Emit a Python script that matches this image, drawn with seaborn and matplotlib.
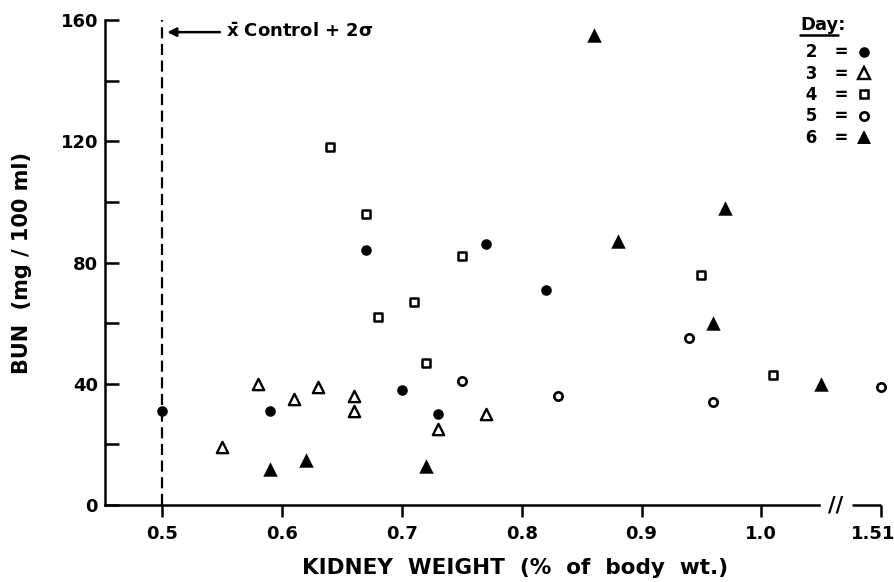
import matplotlib
matplotlib.use("Agg")
import matplotlib.pyplot as plt
import matplotlib.transforms as mtransforms
from matplotlib.lines import Line2D
import numpy as np
import pandas as pd
import seaborn as sns

# kidney weight (% of body wt.) and BUN (mg/100 ml), one pair of lists per day
day2_x = [0.50, 0.59, 0.67, 0.70, 0.73, 0.77, 0.82]
day2_y = [31, 31, 84, 38, 30, 86, 71]
day3_x = [0.55, 0.58, 0.61, 0.63, 0.66, 0.66, 0.73, 0.77]
day3_y = [19, 40, 35, 39, 36, 31, 25, 30]
day4_x = [0.64, 0.67, 0.68, 0.71, 0.72, 0.75, 0.95, 1.01]
day4_y = [118, 96, 62, 67, 47, 82, 76, 43]
day5_x = [0.75, 0.83, 0.94, 0.96, 1.51]
day5_y = [41, 36, 55, 34, 39]
day6_x = [0.59, 0.62, 0.72, 0.86, 0.88, 0.96, 0.97, 1.05]
day6_y = [12, 15, 13, 155, 87, 60, 98, 40]

days = ["2", "3", "4", "5", "6"]
x_ticks = [0.5, 0.6, 0.7, 0.8, 0.9, 1.0, 1.51]
x_tick_labels = ["0.5", "0.6", "0.7", "0.8", "0.9", "1.0", "1.51"]
y_ticks = [0, 40, 80, 120, 160]
y_minor = [20, 60, 100, 140]
control_limit = 0.5      # mean control + 2 sigma
control_label_y = 156

# broken x axis: everything past the break is pulled left by this amount
BREAK_AT = 1.2
BREAK_SHIFT = 0.41


def to_axis(x):
    x = np.asarray(x, dtype=float)
    return np.where(x > BREAK_AT, x - BREAK_SHIFT, x)


frames = []
for d, xs, ys in zip(days, [day2_x, day3_x, day4_x, day5_x, day6_x],
                     [day2_y, day3_y, day4_y, day5_y, day6_y]):
    frames.append(pd.DataFrame({"kw": xs, "bun": ys, "day": d}))
df = pd.concat(frames, ignore_index=True)
df["pos"] = to_axis(df["kw"])

styles = {
    "2": dict(marker="o", s=58, facecolor="black", linewidth=0),
    "3": dict(marker="^", s=66, facecolor="white", linewidth=1.7),
    "4": dict(marker="s", s=32, facecolor="white", linewidth=1.8),
    "5": dict(marker="o", s=36, facecolor="white", linewidth=1.9),
    "6": dict(marker="^", s=108, facecolor="black", linewidth=0),
}

sns.set_theme(style="ticks")
plt.rcParams["font.family"] = ["DejaVu Sans"]
plt.rcParams["font.weight"] = "bold"
plt.rcParams["axes.labelweight"] = "bold"
plt.rcParams["text.color"] = "black"
plt.rcParams["axes.labelcolor"] = "black"
plt.rcParams["mathtext.default"] = "bf"

fig, ax = plt.subplots(figsize=(8.95, 5.82), dpi=100)
fig.subplots_adjust(left=0.1173, right=0.9844, bottom=0.1323, top=0.9656)

for d in days:
    st = styles[d]
    sns.scatterplot(data=df[df["day"] == d], x="pos", y="bun", ax=ax,
                    marker=st["marker"], s=st["s"], facecolor=st["facecolor"],
                    edgecolor="black", linewidth=st["linewidth"], zorder=3,
                    clip_on=False, legend=False)

ax.axvline(control_limit, color="black", lw=1.6, ls=(0, (5, 2.5)), zorder=2)
ax.annotate(r"$\bar{x}$ Control + 2σ", xy=(control_limit + 0.004, control_label_y),
            xytext=(0.553, control_label_y), va="center", ha="left", fontsize=13,
            fontweight="bold", color="black",
            arrowprops=dict(arrowstyle="-|>", color="black", lw=1.8,
                            relpos=(0, 0.5), shrinkA=2, shrinkB=0))

ax.set_xlim(0.452, to_axis(1.51))
ax.set_ylim(0, 160)
ax.set_xticks(to_axis(x_ticks))
ax.set_xticklabels(x_tick_labels)
ax.set_yticks(y_ticks)
ax.set_yticks(y_minor, minor=True)
ax.tick_params(axis="x", direction="out", length=8.5, width=1.8, pad=6,
               labelsize=13, colors="black")
ax.tick_params(axis="y", which="both", direction="in", length=10, width=1.8,
               pad=5, labelsize=13, colors="black")
# pull the last label a little left so it stays on the page
last = ax.get_xticklabels()[-1]
last.set_transform(last.get_transform() +
                   mtransforms.ScaledTranslation(-8 / 100, 0, fig.dpi_scale_trans))

for sp in ["top", "right"]:
    ax.spines[sp].set_visible(False)
for sp in ["left", "bottom"]:
    ax.spines[sp].set_linewidth(1.8)
    ax.spines[sp].set_color("black")
ax.spines["bottom"].set_bounds(0.452, 1.048)
ax.plot([1.076, to_axis(1.51)], [0, 0], transform=ax.get_xaxis_transform(),
        color="black", lw=1.8, clip_on=False, solid_capstyle="butt")
ax.text(1.062, 0, "//", transform=ax.get_xaxis_transform(), ha="center",
        va="center", fontsize=15, fontweight="bold")

ax.set_xlabel("KIDNEY  WEIGHT  (%  of  body  wt.)", fontsize=15.5)
ax.xaxis.set_label_coords(0.528, -0.11)
ax.set_ylabel("BUN  (mg / 100 ml)", fontsize=15)
ax.yaxis.set_label_coords(-0.094, 0.5)

handles = [Line2D([], [], ls="none", marker=styles[d]["marker"],
                  markersize=np.sqrt(styles[d]["s"]),
                  markerfacecolor=styles[d]["facecolor"],
                  markeredgecolor="black",
                  markeredgewidth=styles[d]["linewidth"]) for d in days]
leg = ax.legend(handles, [f" {d}   =" for d in days],
                markerfirst=False, frameon=False, fontsize=12,
                loc="upper left", bbox_to_anchor=(792 / 895, 1 - 35 / 582),
                bbox_transform=fig.transFigure, handlelength=1.0,
                handletextpad=0.4, labelspacing=0.2, borderpad=0)

day_title = fig.text(800 / 895, 1 - 25 / 582, "Day:", fontsize=13,
                     fontweight="bold", ha="left", va="center")

fig.canvas.draw()
tb = day_title.get_window_extent()
inv = fig.transFigure.inverted()
(x0, y0), (x1, _) = inv.transform([(tb.x0, tb.y0 - 1), (tb.x1 - 7, tb.y0)])
fig.add_artist(Line2D([x0, x1], [y0, y0], color="black", lw=1.8,
                      transform=fig.transFigure))

fig.savefig("out.png", dpi=100)
